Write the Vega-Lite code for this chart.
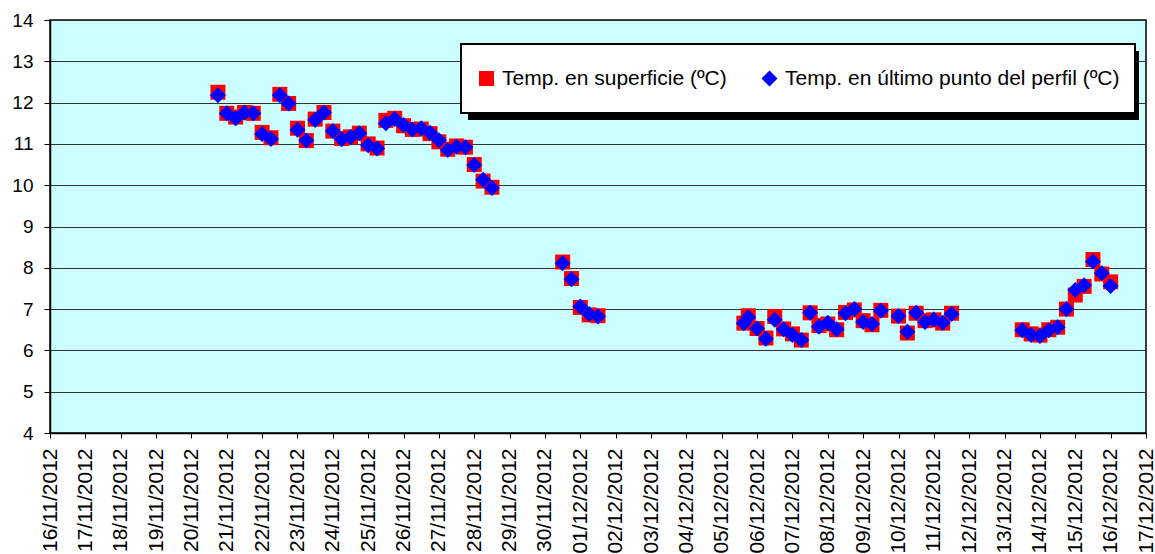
{
  "$schema": "https://vega.github.io/schema/vega-lite/v6.json",
  "autosize": "none",
  "width": 1096,
  "height": 413,
  "padding": {"left": 50, "top": 20, "right": 9, "bottom": 121},
  "background": "white",
  "config": {
    "view": {"fill": "#CCFFFF", "stroke": "#000", "strokeWidth": 1.5},
    "font": "Liberation Sans"
  },
  "data": {
    "values": [
      {"t": "2012-11-20T18:00", "s": "Temp. en superficie (ºC)", "v": 12.25},
      {"t": "2012-11-21T00:00", "s": "Temp. en superficie (ºC)", "v": 11.74},
      {"t": "2012-11-21T06:00", "s": "Temp. en superficie (ºC)", "v": 11.65},
      {"t": "2012-11-21T12:00", "s": "Temp. en superficie (ºC)", "v": 11.76},
      {"t": "2012-11-21T18:00", "s": "Temp. en superficie (ºC)", "v": 11.74},
      {"t": "2012-11-22T00:00", "s": "Temp. en superficie (ºC)", "v": 11.28},
      {"t": "2012-11-22T06:00", "s": "Temp. en superficie (ºC)", "v": 11.15},
      {"t": "2012-11-22T12:00", "s": "Temp. en superficie (ºC)", "v": 12.2},
      {"t": "2012-11-22T18:00", "s": "Temp. en superficie (ºC)", "v": 11.98},
      {"t": "2012-11-23T00:00", "s": "Temp. en superficie (ºC)", "v": 11.38},
      {"t": "2012-11-23T06:00", "s": "Temp. en superficie (ºC)", "v": 11.08},
      {"t": "2012-11-23T12:00", "s": "Temp. en superficie (ºC)", "v": 11.6},
      {"t": "2012-11-23T18:00", "s": "Temp. en superficie (ºC)", "v": 11.76},
      {"t": "2012-11-24T00:00", "s": "Temp. en superficie (ºC)", "v": 11.31},
      {"t": "2012-11-24T06:00", "s": "Temp. en superficie (ºC)", "v": 11.13},
      {"t": "2012-11-24T12:00", "s": "Temp. en superficie (ºC)", "v": 11.17},
      {"t": "2012-11-24T18:00", "s": "Temp. en superficie (ºC)", "v": 11.26},
      {"t": "2012-11-25T00:00", "s": "Temp. en superficie (ºC)", "v": 11.0},
      {"t": "2012-11-25T06:00", "s": "Temp. en superficie (ºC)", "v": 10.9},
      {"t": "2012-11-25T12:00", "s": "Temp. en superficie (ºC)", "v": 11.57},
      {"t": "2012-11-25T18:00", "s": "Temp. en superficie (ºC)", "v": 11.62},
      {"t": "2012-11-26T00:00", "s": "Temp. en superficie (ºC)", "v": 11.44},
      {"t": "2012-11-26T06:00", "s": "Temp. en superficie (ºC)", "v": 11.35},
      {"t": "2012-11-26T12:00", "s": "Temp. en superficie (ºC)", "v": 11.36},
      {"t": "2012-11-26T18:00", "s": "Temp. en superficie (ºC)", "v": 11.25},
      {"t": "2012-11-27T00:00", "s": "Temp. en superficie (ºC)", "v": 11.05},
      {"t": "2012-11-27T06:00", "s": "Temp. en superficie (ºC)", "v": 10.87},
      {"t": "2012-11-27T12:00", "s": "Temp. en superficie (ºC)", "v": 10.95},
      {"t": "2012-11-27T18:00", "s": "Temp. en superficie (ºC)", "v": 10.92},
      {"t": "2012-11-28T00:00", "s": "Temp. en superficie (ºC)", "v": 10.5},
      {"t": "2012-11-28T06:00", "s": "Temp. en superficie (ºC)", "v": 10.1},
      {"t": "2012-11-28T12:00", "s": "Temp. en superficie (ºC)", "v": 9.95},
      {"t": "2012-11-30T12:00", "s": "Temp. en superficie (ºC)", "v": 8.14},
      {"t": "2012-11-30T18:00", "s": "Temp. en superficie (ºC)", "v": 7.74},
      {"t": "2012-12-01T00:00", "s": "Temp. en superficie (ºC)", "v": 7.04},
      {"t": "2012-12-01T06:00", "s": "Temp. en superficie (ºC)", "v": 6.86},
      {"t": "2012-12-01T12:00", "s": "Temp. en superficie (ºC)", "v": 6.84},
      {"t": "2012-12-05T15:00", "s": "Temp. en superficie (ºC)", "v": 6.66},
      {"t": "2012-12-05T18:00", "s": "Temp. en superficie (ºC)", "v": 6.84},
      {"t": "2012-12-06T00:00", "s": "Temp. en superficie (ºC)", "v": 6.53},
      {"t": "2012-12-06T06:00", "s": "Temp. en superficie (ºC)", "v": 6.3},
      {"t": "2012-12-06T12:00", "s": "Temp. en superficie (ºC)", "v": 6.82},
      {"t": "2012-12-06T18:00", "s": "Temp. en superficie (ºC)", "v": 6.52},
      {"t": "2012-12-07T00:00", "s": "Temp. en superficie (ºC)", "v": 6.4},
      {"t": "2012-12-07T06:00", "s": "Temp. en superficie (ºC)", "v": 6.25},
      {"t": "2012-12-07T12:00", "s": "Temp. en superficie (ºC)", "v": 6.91},
      {"t": "2012-12-07T18:00", "s": "Temp. en superficie (ºC)", "v": 6.6},
      {"t": "2012-12-08T00:00", "s": "Temp. en superficie (ºC)", "v": 6.64},
      {"t": "2012-12-08T06:00", "s": "Temp. en superficie (ºC)", "v": 6.5},
      {"t": "2012-12-08T12:00", "s": "Temp. en superficie (ºC)", "v": 6.92},
      {"t": "2012-12-08T18:00", "s": "Temp. en superficie (ºC)", "v": 6.98},
      {"t": "2012-12-09T00:00", "s": "Temp. en superficie (ºC)", "v": 6.72},
      {"t": "2012-12-09T06:00", "s": "Temp. en superficie (ºC)", "v": 6.62},
      {"t": "2012-12-09T12:00", "s": "Temp. en superficie (ºC)", "v": 6.97},
      {"t": "2012-12-10T00:00", "s": "Temp. en superficie (ºC)", "v": 6.83},
      {"t": "2012-12-10T06:00", "s": "Temp. en superficie (ºC)", "v": 6.42},
      {"t": "2012-12-10T12:00", "s": "Temp. en superficie (ºC)", "v": 6.9},
      {"t": "2012-12-10T18:00", "s": "Temp. en superficie (ºC)", "v": 6.72},
      {"t": "2012-12-11T00:00", "s": "Temp. en superficie (ºC)", "v": 6.74},
      {"t": "2012-12-11T06:00", "s": "Temp. en superficie (ºC)", "v": 6.66},
      {"t": "2012-12-11T12:00", "s": "Temp. en superficie (ºC)", "v": 6.9},
      {"t": "2012-12-13T12:00", "s": "Temp. en superficie (ºC)", "v": 6.5},
      {"t": "2012-12-13T18:00", "s": "Temp. en superficie (ºC)", "v": 6.4},
      {"t": "2012-12-14T00:00", "s": "Temp. en superficie (ºC)", "v": 6.37},
      {"t": "2012-12-14T06:00", "s": "Temp. en superficie (ºC)", "v": 6.5},
      {"t": "2012-12-14T12:00", "s": "Temp. en superficie (ºC)", "v": 6.56},
      {"t": "2012-12-14T18:00", "s": "Temp. en superficie (ºC)", "v": 7.0},
      {"t": "2012-12-15T00:00", "s": "Temp. en superficie (ºC)", "v": 7.34},
      {"t": "2012-12-15T06:00", "s": "Temp. en superficie (ºC)", "v": 7.55},
      {"t": "2012-12-15T12:00", "s": "Temp. en superficie (ºC)", "v": 8.2},
      {"t": "2012-12-15T18:00", "s": "Temp. en superficie (ºC)", "v": 7.85},
      {"t": "2012-12-16T00:00", "s": "Temp. en superficie (ºC)", "v": 7.66},
      {"t": "2012-11-20T18:00", "s": "Temp. en último punto del perfil (ºC)", "v": 12.18},
      {"t": "2012-11-21T00:00", "s": "Temp. en último punto del perfil (ºC)", "v": 11.74},
      {"t": "2012-11-21T06:00", "s": "Temp. en último punto del perfil (ºC)", "v": 11.62},
      {"t": "2012-11-21T12:00", "s": "Temp. en último punto del perfil (ºC)", "v": 11.76},
      {"t": "2012-11-21T18:00", "s": "Temp. en último punto del perfil (ºC)", "v": 11.74},
      {"t": "2012-11-22T00:00", "s": "Temp. en último punto del perfil (ºC)", "v": 11.24},
      {"t": "2012-11-22T06:00", "s": "Temp. en último punto del perfil (ºC)", "v": 11.12},
      {"t": "2012-11-22T12:00", "s": "Temp. en último punto del perfil (ºC)", "v": 12.18},
      {"t": "2012-11-22T18:00", "s": "Temp. en último punto del perfil (ºC)", "v": 11.98},
      {"t": "2012-11-23T00:00", "s": "Temp. en último punto del perfil (ºC)", "v": 11.34},
      {"t": "2012-11-23T06:00", "s": "Temp. en último punto del perfil (ºC)", "v": 11.08},
      {"t": "2012-11-23T12:00", "s": "Temp. en último punto del perfil (ºC)", "v": 11.58},
      {"t": "2012-11-23T18:00", "s": "Temp. en último punto del perfil (ºC)", "v": 11.76},
      {"t": "2012-11-24T00:00", "s": "Temp. en último punto del perfil (ºC)", "v": 11.31},
      {"t": "2012-11-24T06:00", "s": "Temp. en último punto del perfil (ºC)", "v": 11.11},
      {"t": "2012-11-24T12:00", "s": "Temp. en último punto del perfil (ºC)", "v": 11.17},
      {"t": "2012-11-24T18:00", "s": "Temp. en último punto del perfil (ºC)", "v": 11.26},
      {"t": "2012-11-25T00:00", "s": "Temp. en último punto del perfil (ºC)", "v": 10.97},
      {"t": "2012-11-25T06:00", "s": "Temp. en último punto del perfil (ºC)", "v": 10.89},
      {"t": "2012-11-25T12:00", "s": "Temp. en último punto del perfil (ºC)", "v": 11.5},
      {"t": "2012-11-25T18:00", "s": "Temp. en último punto del perfil (ºC)", "v": 11.6},
      {"t": "2012-11-26T00:00", "s": "Temp. en último punto del perfil (ºC)", "v": 11.46},
      {"t": "2012-11-26T06:00", "s": "Temp. en último punto del perfil (ºC)", "v": 11.35},
      {"t": "2012-11-26T12:00", "s": "Temp. en último punto del perfil (ºC)", "v": 11.38},
      {"t": "2012-11-26T18:00", "s": "Temp. en último punto del perfil (ºC)", "v": 11.27},
      {"t": "2012-11-27T00:00", "s": "Temp. en último punto del perfil (ºC)", "v": 11.09},
      {"t": "2012-11-27T06:00", "s": "Temp. en último punto del perfil (ºC)", "v": 10.85},
      {"t": "2012-11-27T12:00", "s": "Temp. en último punto del perfil (ºC)", "v": 10.93},
      {"t": "2012-11-27T18:00", "s": "Temp. en último punto del perfil (ºC)", "v": 10.92},
      {"t": "2012-11-28T00:00", "s": "Temp. en último punto del perfil (ºC)", "v": 10.49},
      {"t": "2012-11-28T06:00", "s": "Temp. en último punto del perfil (ºC)", "v": 10.13},
      {"t": "2012-11-28T12:00", "s": "Temp. en último punto del perfil (ºC)", "v": 9.93},
      {"t": "2012-11-30T12:00", "s": "Temp. en último punto del perfil (ºC)", "v": 8.11},
      {"t": "2012-11-30T18:00", "s": "Temp. en último punto del perfil (ºC)", "v": 7.72},
      {"t": "2012-12-01T00:00", "s": "Temp. en último punto del perfil (ºC)", "v": 7.06},
      {"t": "2012-12-01T06:00", "s": "Temp. en último punto del perfil (ºC)", "v": 6.88},
      {"t": "2012-12-01T12:00", "s": "Temp. en último punto del perfil (ºC)", "v": 6.82},
      {"t": "2012-12-05T15:00", "s": "Temp. en último punto del perfil (ºC)", "v": 6.66},
      {"t": "2012-12-05T18:00", "s": "Temp. en último punto del perfil (ºC)", "v": 6.8},
      {"t": "2012-12-06T00:00", "s": "Temp. en último punto del perfil (ºC)", "v": 6.53},
      {"t": "2012-12-06T06:00", "s": "Temp. en último punto del perfil (ºC)", "v": 6.28},
      {"t": "2012-12-06T12:00", "s": "Temp. en último punto del perfil (ºC)", "v": 6.74},
      {"t": "2012-12-06T18:00", "s": "Temp. en último punto del perfil (ºC)", "v": 6.51},
      {"t": "2012-12-07T00:00", "s": "Temp. en último punto del perfil (ºC)", "v": 6.37},
      {"t": "2012-12-07T06:00", "s": "Temp. en último punto del perfil (ºC)", "v": 6.25},
      {"t": "2012-12-07T12:00", "s": "Temp. en último punto del perfil (ºC)", "v": 6.91},
      {"t": "2012-12-07T18:00", "s": "Temp. en último punto del perfil (ºC)", "v": 6.57},
      {"t": "2012-12-08T00:00", "s": "Temp. en último punto del perfil (ºC)", "v": 6.67},
      {"t": "2012-12-08T06:00", "s": "Temp. en último punto del perfil (ºC)", "v": 6.51},
      {"t": "2012-12-08T12:00", "s": "Temp. en último punto del perfil (ºC)", "v": 6.9},
      {"t": "2012-12-08T18:00", "s": "Temp. en último punto del perfil (ºC)", "v": 7.0},
      {"t": "2012-12-09T00:00", "s": "Temp. en último punto del perfil (ºC)", "v": 6.69},
      {"t": "2012-12-09T06:00", "s": "Temp. en último punto del perfil (ºC)", "v": 6.64},
      {"t": "2012-12-09T12:00", "s": "Temp. en último punto del perfil (ºC)", "v": 6.96},
      {"t": "2012-12-10T00:00", "s": "Temp. en último punto del perfil (ºC)", "v": 6.83},
      {"t": "2012-12-10T06:00", "s": "Temp. en último punto del perfil (ºC)", "v": 6.45},
      {"t": "2012-12-10T12:00", "s": "Temp. en último punto del perfil (ºC)", "v": 6.91},
      {"t": "2012-12-10T18:00", "s": "Temp. en último punto del perfil (ºC)", "v": 6.69},
      {"t": "2012-12-11T00:00", "s": "Temp. en último punto del perfil (ºC)", "v": 6.75},
      {"t": "2012-12-11T06:00", "s": "Temp. en último punto del perfil (ºC)", "v": 6.67},
      {"t": "2012-12-11T12:00", "s": "Temp. en último punto del perfil (ºC)", "v": 6.88},
      {"t": "2012-12-13T12:00", "s": "Temp. en último punto del perfil (ºC)", "v": 6.49},
      {"t": "2012-12-13T18:00", "s": "Temp. en último punto del perfil (ºC)", "v": 6.37},
      {"t": "2012-12-14T00:00", "s": "Temp. en último punto del perfil (ºC)", "v": 6.35},
      {"t": "2012-12-14T06:00", "s": "Temp. en último punto del perfil (ºC)", "v": 6.49},
      {"t": "2012-12-14T12:00", "s": "Temp. en último punto del perfil (ºC)", "v": 6.56},
      {"t": "2012-12-14T18:00", "s": "Temp. en último punto del perfil (ºC)", "v": 7.0},
      {"t": "2012-12-15T00:00", "s": "Temp. en último punto del perfil (ºC)", "v": 7.46},
      {"t": "2012-12-15T06:00", "s": "Temp. en último punto del perfil (ºC)", "v": 7.58},
      {"t": "2012-12-15T12:00", "s": "Temp. en último punto del perfil (ºC)", "v": 8.15},
      {"t": "2012-12-15T18:00", "s": "Temp. en último punto del perfil (ºC)", "v": 7.87},
      {"t": "2012-12-16T00:00", "s": "Temp. en último punto del perfil (ºC)", "v": 7.56}
    ]
  },
  "mark": {"type": "point", "filled": true, "strokeWidth": 0},
  "encoding": {
    "x": {
      "field": "t",
      "type": "temporal",
      "scale": {
        "domain": [
          {"year": 2012, "month": 11, "date": 16},
          {"year": 2012, "month": 12, "date": 17}
        ],
        "nice": false
      },
      "axis": {
        "title": null,
        "format": "%d/%m/%Y",
        "tickCount": {"interval": "day", "step": 1},
        "labelAngle": 270,
        "labelFontSize": 21,
        "labelFont": "Liberation Sans",
        "labelColor": "#000",
        "labelPadding": 10,
        "labelOverlap": false,
        "labelLimit": 0,
        "labelFlush": false,
        "tickSize": 5,
        "tickColor": "#000",
        "domainColor": "#000",
        "domainWidth": 1.5,
        "grid": false
      }
    },
    "y": {
      "field": "v",
      "type": "quantitative",
      "scale": {"domain": [4, 14], "nice": false, "zero": false},
      "axis": {
        "title": null,
        "values": [4, 5, 6, 7, 8, 9, 10, 11, 12, 13, 14],
        "labelFontSize": 19,
        "labelFont": "Liberation Sans",
        "labelColor": "#000",
        "labelPadding": 11,
        "tickSize": 6,
        "tickColor": "#000",
        "domainColor": "#000",
        "domainWidth": 1.5,
        "grid": true,
        "gridColor": "#333",
        "gridWidth": 1,
        "gridOpacity": 1
      }
    },
    "color": {
      "field": "s",
      "type": "nominal",
      "scale": {
        "domain": ["Temp. en superficie (ºC)", "Temp. en último punto del perfil (ºC)"],
        "range": ["#FF0000", "#0000FF"]
      },
      "legend": {
        "title": null,
        "orient": "none",
        "legendX": 411,
        "legendY": 24,
        "zindex": 2,
        "direction": "horizontal",
        "fillColor": "white",
        "strokeColor": "#000",
        "padding": 15,
        "clipHeight": 39,
        "columnPadding": 32,
        "labelOffset": 5,
        "labelFontSize": 21,
        "labelFont": "Liberation Sans",
        "labelColor": "#000",
        "labelLimit": 0,
        "symbolSize": 225,
        "symbolStrokeWidth": 0,
        "symbolOpacity": 1,
        "encode": {"legend": {"update": {"strokeWidth": {"value": 2}}}}
      }
    },
    "shape": {
      "field": "s",
      "type": "nominal",
      "scale": {
        "domain": ["Temp. en superficie (ºC)", "Temp. en último punto del perfil (ºC)"],
        "range": ["square", "diamond"]
      }
    },
    "opacity": {
      "field": "s",
      "type": "nominal",
      "scale": {
        "domain": ["Temp. en último punto del perfil (ºC)", "Temp. en superficie (ºC)"],
        "range": [1, 1]
      },
      "legend": {
        "title": null,
        "orient": "none",
        "legendX": 418,
        "legendY": 31,
        "zindex": 1,
        "values": ["Temp. en superficie (ºC)"],
        "labelExpr": "''",
        "labelOffset": 0,
        "padding": 0,
        "clipHeight": 69,
        "symbolType": "M-1,-0.1028H1V0.1028H-1Z",
        "symbolSize": 450241,
        "symbolFillColor": "#000",
        "symbolStrokeColor": "#000",
        "symbolStrokeWidth": 0
      }
    },
    "size": {
      "field": "s",
      "type": "nominal",
      "scale": {
        "domain": ["Temp. en superficie (ºC)", "Temp. en último punto del perfil (ºC)"],
        "range": [225, 256]
      },
      "legend": null
    }
  }
}
